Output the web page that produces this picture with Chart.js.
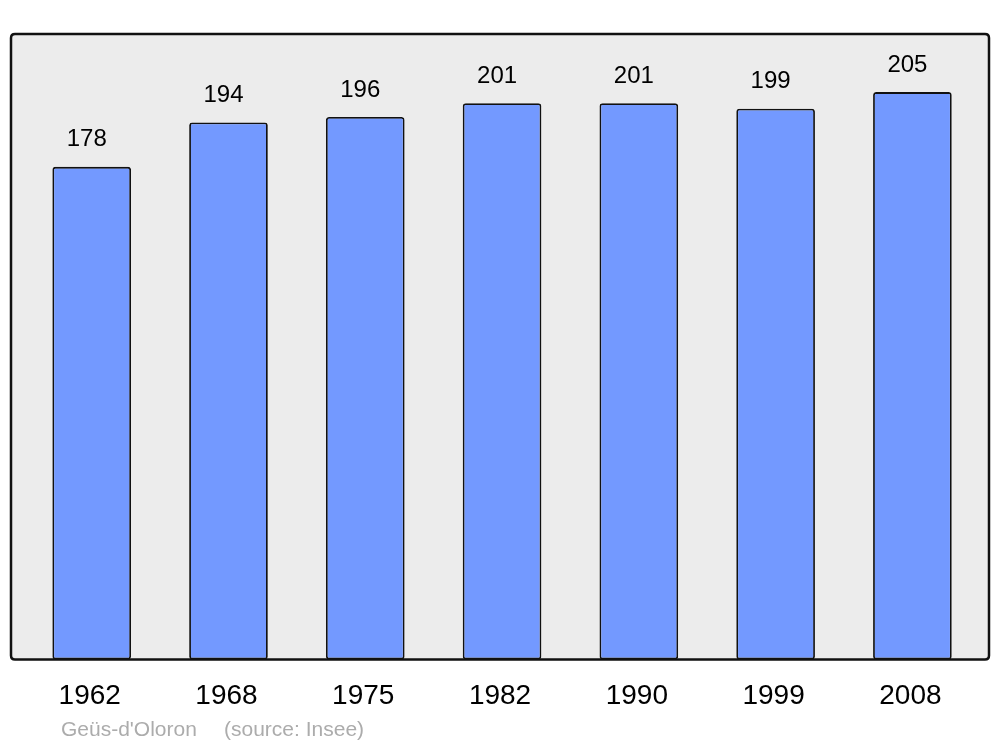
<!DOCTYPE html>
<html>
<head>
<meta charset="utf-8">
<script src="https://cdn.jsdelivr.net/npm/chart.js@4"></script>
<style>
  html, body { margin: 0; padding: 0; background: #fff; }
  #wrap { width: 1000px; height: 747px; }
</style>
</head>
<body>
<div id="wrap"><canvas id="chart" width="1000" height="747"></canvas></div>
<script>
// Population data (Insee)
const years = ['1962', '1968', '1975', '1982', '1990', '1999', '2008'];
const population = [178, 194, 196, 201, 201, 199, 205];
const placeName = "Geüs-d'Oloron";
const sourceText = '(source: Insee)';

const FONT = '"Liberation Sans", Arial, sans-serif';

// rounded rectangle helper
function roundRect(ctx, x, y, w, h, r) {
    ctx.beginPath();
    ctx.moveTo(x + r, y);
    ctx.lineTo(x + w - r, y);
    ctx.quadraticCurveTo(x + w, y, x + w, y + r);
    ctx.lineTo(x + w, y + h - r);
    ctx.quadraticCurveTo(x + w, y + h, x + w - r, y + h);
    ctx.lineTo(x + r, y + h);
    ctx.quadraticCurveTo(x, y + h, x, y + h - r);
    ctx.lineTo(x, y + r);
    ctx.quadraticCurveTo(x, y, x + r, y);
    ctx.closePath();
}

// grey plot background and black frame round the chart area
const framePlugin = {
    id: 'frame',
    beforeDatasetsDraw(chart) {
        const { ctx, chartArea: a } = chart;
        ctx.save();
        roundRect(ctx, a.left, a.top, a.right - a.left, a.bottom - a.top, 4);
        ctx.fillStyle = '#ececec';
        ctx.fill();
        ctx.restore();
    },
    afterDatasetsDraw(chart) {
        const { ctx, chartArea: a } = chart;
        ctx.save();
        roundRect(ctx, a.left, a.top, a.right - a.left, a.bottom - a.top, 4);
        ctx.lineWidth = 2.5;
        ctx.strokeStyle = '#111';
        ctx.stroke();
        ctx.restore();
    }
};

// value above each bar
const valueLabels = {
    id: 'valueLabels',
    afterDatasetsDraw(chart) {
        const { ctx } = chart;
        const meta = chart.getDatasetMeta(0);
        ctx.save();
        ctx.font = '24px ' + FONT;
        ctx.fillStyle = '#000';
        ctx.textAlign = 'center';
        ctx.textBaseline = 'middle';
        meta.data.forEach((bar, i) => {
            ctx.fillText(String(population[i]), bar.x - 5, bar.y - 27);
        });
        ctx.restore();
    }
};

// source line under the axis
const footer = {
    id: 'footer',
    afterDraw(chart) {
        const { ctx, chartArea: a } = chart;
        ctx.save();
        ctx.font = '21px ' + FONT;
        ctx.fillStyle = '#acacac';
        ctx.textAlign = 'left';
        ctx.textBaseline = 'middle';
        ctx.fillText(placeName, a.left + 50, a.bottom + 71);
        ctx.fillText(sourceText, a.left + 213, a.bottom + 71);
        ctx.restore();
    }
};

new Chart(document.getElementById('chart'), {
    type: 'bar',
    data: {
        datasets: [{
            data: population.map((v, i) => ({ x: i, y: v })),
            backgroundColor: '#7399ff',
            borderColor: '#111',
            borderWidth: 1.8,
            borderRadius: 3,
            borderSkipped: false,
            categoryPercentage: 1,
            barPercentage: 0.575
        }]
    },
    options: {
        responsive: false,
        animation: false,
        layout: { padding: { left: 11, right: 11, top: 34, bottom: 14 } },
        plugins: {
            legend: { display: false },
            tooltip: { enabled: false }
        },
        scales: {
            x: {
                type: 'linear',
                offset: false,
                min: -0.59,
                max: 6.56,
                grid: { display: false, drawTicks: false },
                border: { display: false },
                afterBuildTicks(axis) {
                    axis.ticks = years.map((y, i) => ({ value: i }));
                },
                ticks: {
                    padding: 20,
                    labelOffset: -2,
                    color: '#000',
                    font: { family: FONT, size: 28 },
                    callback: (v) => years[v]
                }
            },
            y: {
                display: false,
                min: 0,
                max: 226
            }
        }
    },
    plugins: [framePlugin, valueLabels, footer]
});
</script>
</body>
</html>
